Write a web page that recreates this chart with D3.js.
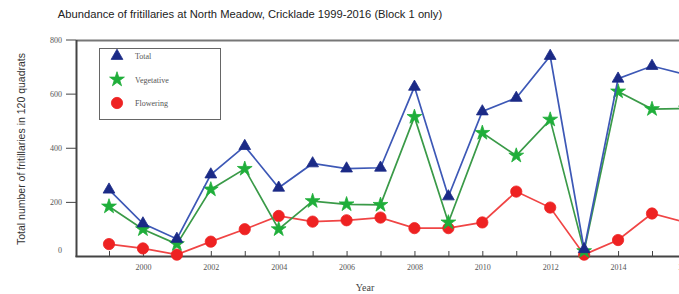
<!DOCTYPE html>
<html>
<head>
<meta charset="utf-8">
<script src="https://cdn.jsdelivr.net/npm/d3@7"></script>
<style>
  body { margin: 0; background: #fff; }
  svg { display: block; }
</style>
</head>
<body>
<svg id="chart"></svg>
<script>
// values (block 1 counts)
let years = [1999, 2000, 2001, 2002, 2003, 2004, 2005, 2006, 2007, 2008,
             2009, 2010, 2011, 2012, 2013, 2014, 2015, 2016];
let total = [245, 120, 63, 301, 406, 252, 342, 323, 326, 625, 220, 534, 584, 739, 25, 655, 702, 670];
let vegetative = [183, 99, 44, 246, 322, 99, 203, 191, 189, 514, 124, 455, 371, 504, 18, 608, 543, 545];
let flowering = [44, 28, 5, 53, 99, 148, 127, 132, 142, 103, 103, 124, 238, 179, 5, 59, 157, 124];
let yTicks = [0, 200, 400, 600, 800];
let seriesNames = ["Total", "Vegetative", "Flowering"];

let width = 679;
let height = 294;

let svg = d3.select("#chart")
    .attr("width", width)
    .attr("height", height);

let x = d3.scaleLinear().domain([1999, 2015]).range([109, 652]);
let y = d3.scaleLinear().domain([0, 800]).range([256, 39.5]);

let serif = "'Liberation Serif', 'DejaVu Serif', serif";
let sans = "'Liberation Sans', Arial, sans-serif";

// title
svg.append("text")
    .attr("x", 250).attr("y", 18)
    .attr("text-anchor", "middle")
    .attr("font-family", sans)
    .attr("font-size", 11.2)
    .attr("fill", "#222")
    .text("Abundance of fritillaries at North Meadow, Cricklade 1999-2016 (Block 1 only)");

// frame: top line
svg.append("line")
    .attr("x1", 76).attr("x2", width)
    .attr("y1", 40.5).attr("y2", 40.5)
    .attr("stroke", "#777").attr("stroke-width", 2);

// y axis
let yAxis = svg.append("g")
    .attr("transform", "translate(76,0)")
    .call(d3.axisLeft(y).tickValues(yTicks).tickSize(10).tickPadding(4));
yAxis.select(".domain").remove();
yAxis.selectAll(".tick line").attr("stroke", "#444")
    .filter(d => d === 0).remove();
yAxis.selectAll(".tick text")
    .attr("font-family", serif).attr("font-size", 8).attr("fill", "#555")
    .filter(d => d === 0).attr("dy", "-0.45em");
svg.append("line")
    .attr("x1", 76.5).attr("x2", 76.5)
    .attr("y1", 40).attr("y2", 257)
    .attr("stroke", "#444").attr("stroke-width", 2);

// x axis
let xAxis = svg.append("g")
    .attr("transform", "translate(0,256)")
    .call(d3.axisBottom(x).tickValues(years)
        .tickSizeInner(-5).tickSizeOuter(0).tickPadding(8)
        .tickFormat(d => d % 2 === 0 ? d : ""));
xAxis.select(".domain").remove();
xAxis.selectAll(".tick line").attr("stroke", "#444");
xAxis.selectAll(".tick text")
    .attr("font-family", serif).attr("font-size", 8).attr("fill", "#555");
svg.append("line")
    .attr("x1", 75.5).attr("x2", width)
    .attr("y1", 256.5).attr("y2", 256.5)
    .attr("stroke", "#444").attr("stroke-width", 2);

// axis titles
svg.append("text")
    .attr("x", 365).attr("y", 291)
    .attr("text-anchor", "middle")
    .attr("font-family", serif)
    .attr("font-size", 10)
    .attr("fill", "#444")
    .text("Year");

svg.append("text")
    .attr("transform", "translate(25,149) rotate(-90)")
    .attr("text-anchor", "middle")
    .attr("font-family", sans)
    .attr("font-size", 10.5)
    .attr("fill", "#333")
    .text("Total number of fritillaries in 120 quadrats");

let series = [
    { name: "Flowering", values: flowering, line: "#f04545", mark: "#ee2222", sym: d3.symbolCircle, size: 100 },
    { name: "Vegetative", values: vegetative, line: "#3a9a48", mark: "#1fae3a", sym: d3.symbolStar, size: 68 },
    { name: "Total", values: total, line: "#3d58b6", mark: "#1b2a86", sym: d3.symbolTriangle, size: 60 }
];

let line = d3.line()
    .x(d => x(d[0]))
    .y(d => y(d[1]));

series.forEach(function (s) {
    let pts = years.map((yr, i) => [yr, s.values[i]]);
    let g = svg.append("g");
    g.append("path")
        .attr("d", line(pts))
        .attr("fill", "none")
        .attr("stroke", s.line)
        .attr("stroke-width", 1.7);
    g.selectAll("path.m")
        .data(pts)
        .enter().append("path")
        .attr("class", "m")
        .attr("transform", d => "translate(" + x(d[0]) + "," + y(d[1]) + ")")
        .attr("d", d3.symbol().type(s.sym).size(s.size))
        .attr("fill", s.mark)
        .attr("stroke", s.mark)
        .attr("stroke-width", 0.8)
        .attr("stroke-linejoin", "round");
});

// legend
let legend = svg.append("g");
legend.append("rect")
    .attr("x", 99.5).attr("y", 48.5)
    .attr("width", 121).attr("height", 71)
    .attr("fill", "#fff")
    .attr("stroke", "#666").attr("stroke-width", 1);

let legendItems = seriesNames.map(n => series.find(s => s.name === n));
legendItems.forEach(function (s, i) {
    let ly = 56 + i * 23.5;
    legend.append("path")
        .attr("transform", "translate(117," + ly + ")")
        .attr("d", d3.symbol().type(s.sym).size(s.size))
        .attr("fill", s.mark)
        .attr("stroke", s.mark)
        .attr("stroke-width", 0.8)
        .attr("stroke-linejoin", "round");
    legend.append("text")
        .attr("x", 135).attr("y", ly + 3)
        .attr("font-family", serif)
        .attr("font-size", 8)
        .attr("fill", "#555")
        .text(s.name);
});
</script>
</body>
</html>
